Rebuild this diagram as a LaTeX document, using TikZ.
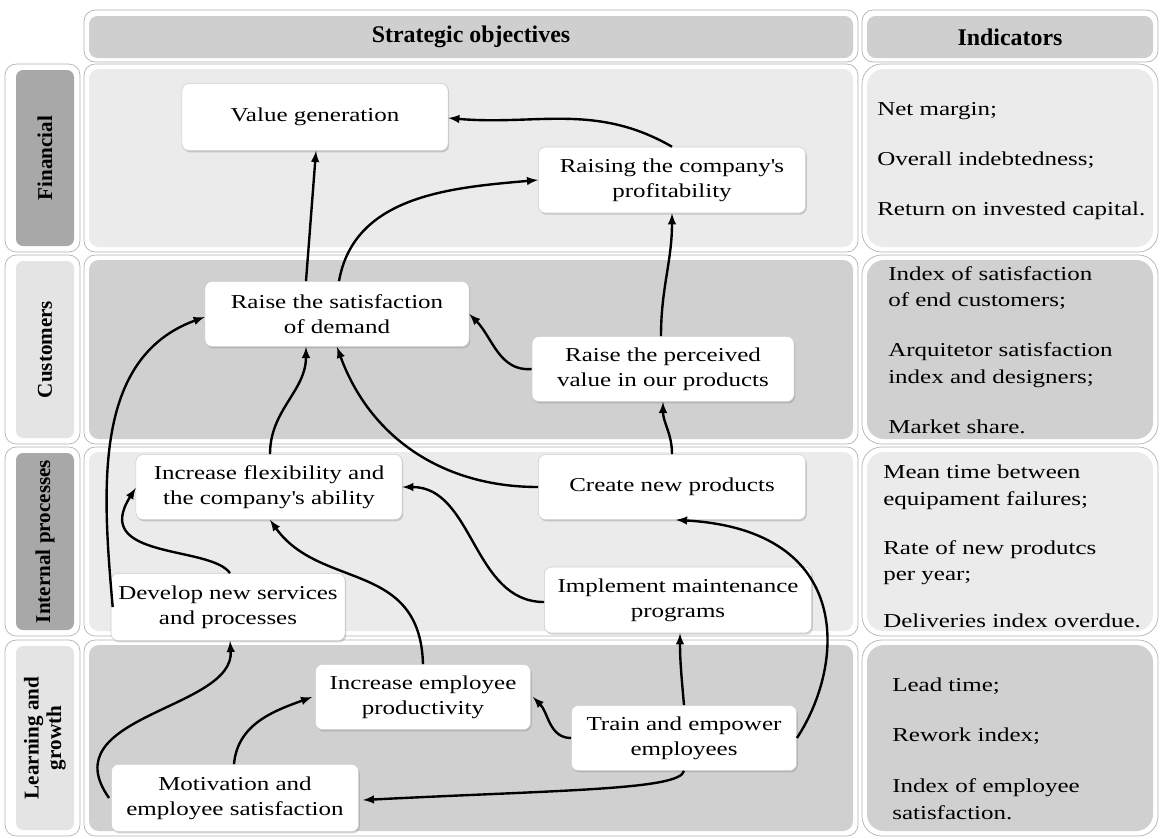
\documentclass[tikz,border=0pt]{standalone}
\usepackage{fontspec}
\setmainfont{Liberation Serif}[FakeStretch=1.27]
\newfontfamily\headfont{Liberation Serif}
\usetikzlibrary{calc,shadows}

\definecolor{rowlight}{HTML}{EBEBEB}
\definecolor{rowdark}{HTML}{D0D0D0}
\definecolor{tabdark}{HTML}{A8A8A8}
\definecolor{tablight}{HTML}{E4E4E4}
\definecolor{headgray}{HTML}{CFCFCF}

\begin{document}
\begin{tikzpicture}[x=0.025cm,y=0.025cm,
frame/.style={draw=gray!60,line width=0.5pt,fill=white,rounded corners=8pt},
objective/.style={draw=gray!40,line width=0.4pt,fill=white,rounded corners=5pt,align=center,inner sep=1pt,
  font=\fontsize{14}{17.8}\selectfont,drop shadow={opacity=0.35,shadow xshift=0.8pt,shadow yshift=-1.2pt}},
indicator/.style={anchor=north west,align=left,inner sep=0pt,font=\fontsize{14}{19}\selectfont},
heading/.style={font=\headfont\bfseries\fontsize{17}{20}\selectfont},
tabtext/.style={rotate=90,align=center,font=\headfont\bfseries\fontsize{15}{16}\selectfont},
link/.style={line width=1.7pt,-latex}]

\useasboundingbox (0,0) rectangle (1164,-838);

% column headings
\draw[frame] (84,-10) rectangle (858,-62);
\path[fill=headgray,rounded corners=6pt] (89,-16) rectangle (853,-58);
\node[heading] (hobj) at (471,-37) {Strategic objectives};
\draw[frame] (862,-10) rectangle (1158,-62);
\path[fill=headgray,rounded corners=6pt] (867,-16) rectangle (1153,-58);
\node[heading] (hind) at (1010,-37) {Indicators};

% perspectives
\foreach \ytop/\ybot/\rowc/\tabc/\lab [count=\r] in
  {64/252/rowlight/tabdark/Financial,
   255/444/rowdark/tablight/Customers,
   447/636/rowlight/tabdark/Internal processes,
   640/836/rowdark/tablight/{Learning and\\growth}}{
  \draw[frame] (5,-\ytop) rectangle (80,-\ybot);
  \path[fill=\tabc,rounded corners=5pt] (16,-\ytop-6) rectangle (74,-\ybot+6);
  \node[tabtext] (tab\r) at (45,{-(\ytop+\ybot)/2}) {\lab};
  \draw[frame] (84,-\ytop) rectangle (858,-\ybot);
  \path[fill=\rowc,rounded corners=7pt] (89,-\ytop-5) rectangle (853,-\ybot+5);
  \draw[frame,rounded corners=14pt] (862,-\ytop) rectangle (1158,-\ybot);
  \path[fill=\rowc,rounded corners=12pt] (867,-\ytop-5) rectangle (1153,-\ybot+5);
}

% strategic objectives
\node[objective,minimum width=6.65cm,minimum height=1.68cm] (value) at (315,-117) {Value generation};
\node[objective,minimum width=6.68cm,minimum height=1.65cm] (profit) at (672,-180) {Raising the company\textquotesingle s\\profitability};
\node[objective,minimum width=6.6cm,minimum height=1.63cm] (demand) at (337,-314) {Raise the satisfaction\\of demand};
\node[objective,minimum width=6.55cm,minimum height=1.63cm] (perceived) at (663,-369) {Raise the perceived\\value in our products};
\node[objective,minimum width=6.65cm,minimum height=1.63cm] (flex) at (269,-487) {Increase flexibility and\\the company\textquotesingle s ability};
\node[objective,minimum width=6.68cm,minimum height=1.63cm] (newprod) at (672,-487) {Create new products};
\node[objective,minimum width=5.85cm,minimum height=1.68cm] (services) at (228,-607) {Develop new services\\and processes};
\node[objective,minimum width=6.68cm,minimum height=1.65cm] (maint) at (678,-600) {Implement maintenance\\programs};
\node[objective,minimum width=5.38cm,minimum height=1.63cm] (productivity) at (423,-697) {Increase employee\\productivity};
\node[objective,minimum width=5.63cm,minimum height=1.63cm] (train) at (684,-738) {Train and empower\\employees};
\node[objective,minimum width=6.18cm,minimum height=1.68cm] (motiv) at (235,-798) {Motivation and\\employee satisfaction};

% indicators
\node[indicator] (ind1) at (877,-102) {Net margin;\\[16.5pt]Overall indebtedness;\\[16.5pt]Return on invested capital.};
\node[indicator] (ind2) at (888,-266) {Index of satisfaction\\of end customers;\\[16.5pt]Arquitetor satisfaction\\index and designers;\\[16.5pt]Market share.};
\node[indicator] (ind3) at (883,-465) {Mean time between\\equipament failures;\\[15.5pt]Rate of new produtcs\\per year;\\[14pt]Deliveries index overdue.};
\node[indicator] (ind4) at (892,-678) {Lead time;\\[16.5pt]Rework index;\\[17pt]Index of employee\\satisfaction.};

% cause and effect links
\draw[link] ($(demand.north)+(-31,0)$) -- ($(value.south)+(1,0)$);
\draw[link] ($(demand.north)+(2,0)$) to[out=80,in=185] (profit.west);
\draw[link] (profit.north) to[out=150,in=-5] ($(value.east)+(0,-1)$);
\draw[link] ($(perceived.north)+(-2,0)$) to[out=90,in=-90] (profit.south);
\draw[link] (perceived.west) to[out=185,in=-45] (demand.east);
\draw[link] (newprod.north) to[out=90,in=-90] (perceived.south);
\draw[link] (newprod.west) to[out=180,in=-70] (demand.south);
\draw[link] ($(flex.north)+(1,0)$) to[out=90,in=-90] ($(demand.south)+(-31,0)$);
\draw[link] ($(services.west)+(2,0)$) to[out=95,in=200] ($(demand.west)+(0,-3)$);
\draw[link] ($(services.north)+(2,0)$) .. controls (210,-545) and (90,-560) .. ($(flex.west)+(0,-1)$);
\draw[link] ($(maint.west)+(0,-2)$) to[out=180,in=0] (flex.east);
\draw[link] (productivity.north) .. controls (420,-560) and (320,-590) .. ($(flex.south)+(1,0)$);
\draw[link] (train.north) to[out=95,in=-90] ($(maint.south)+(2,0)$);
\draw[link] (train.east) .. controls (845,-665) and (855,-530) .. ($(newprod.south)+(4,0)$);
\draw[link] (train.west) to[out=180,in=-45] ($(productivity.east)+(2,0)$);
\draw[link] (train.south) .. controls (680,-790) and (560,-790) .. ($(motiv.east)+(4,-2)$);
\draw[link] ($(motiv.north)+(-1,0)$) to[out=85,in=200] ($(productivity.west)+(-3,0)$);
\draw[link] ($(motiv.west)+(-2,0)$) .. controls (50,-715) and (235,-710) .. ($(services.south)+(2,0)$);
\end{tikzpicture}
\end{document}
